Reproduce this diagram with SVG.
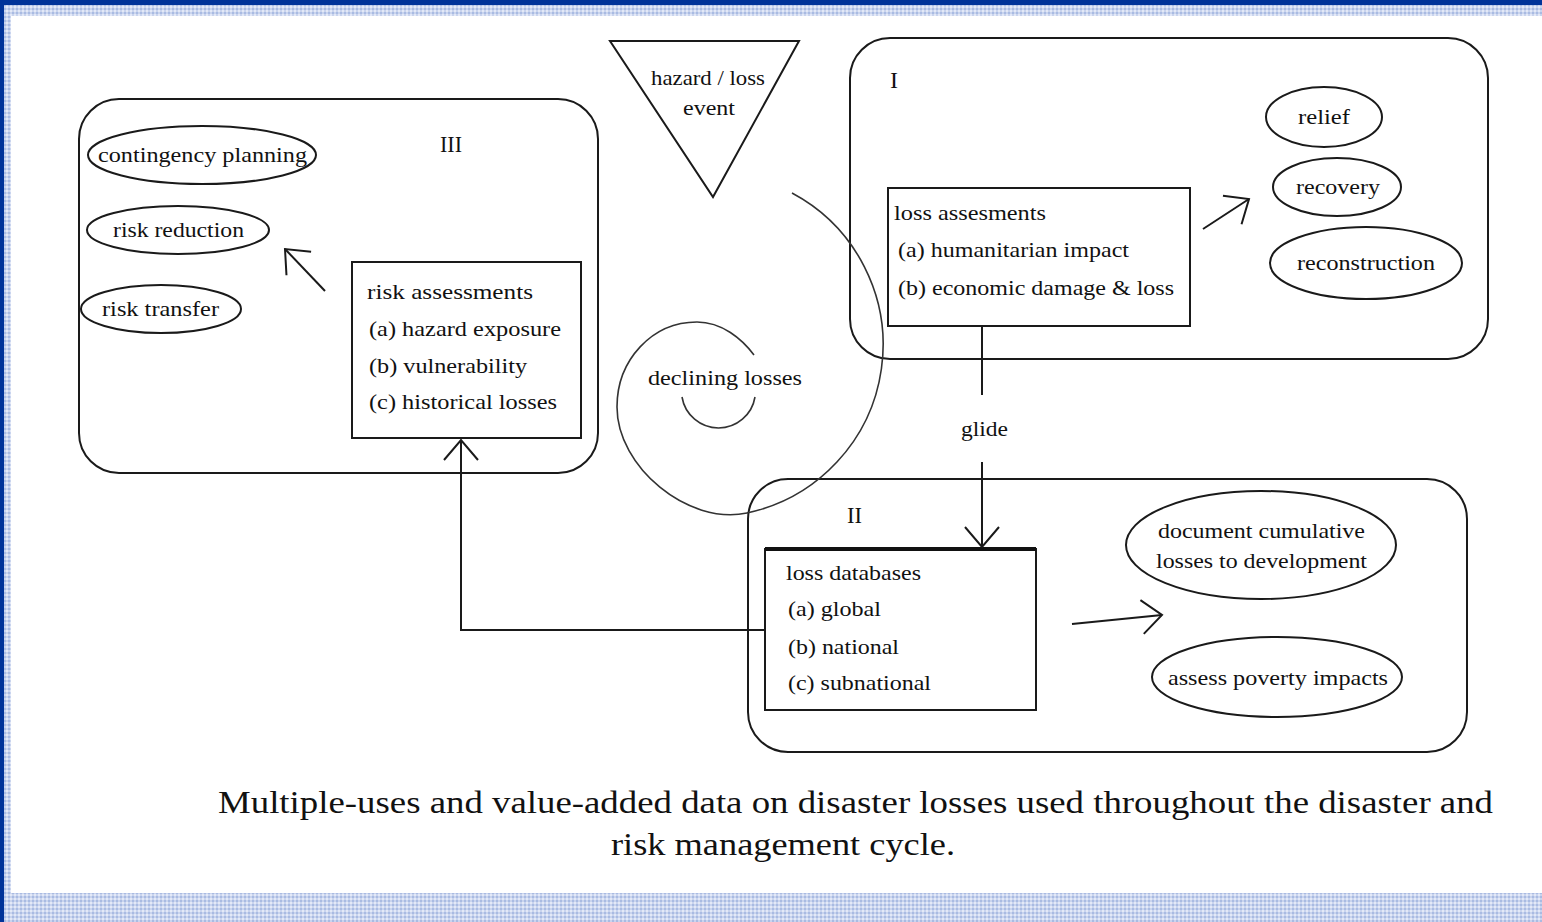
<svg xmlns="http://www.w3.org/2000/svg" width="1542" height="922" viewBox="0 0 1542 922">
<style>
.t{font-family:"Liberation Serif","Times New Roman",serif;font-size:21px;fill:#111}
.r{font-family:"Liberation Serif","Times New Roman",serif;font-size:24px;fill:#111}
.cap{font-family:"Liberation Serif","Times New Roman",serif;font-size:32px;fill:#111}
.box{fill:none;stroke:#1a1a1a;stroke-width:2}
.grp{fill:none;stroke:#1a1a1a;stroke-width:2}
.ell{fill:none;stroke:#1a1a1a;stroke-width:2}
.ln{fill:none;stroke:#1a1a1a;stroke-width:2}
.sp{fill:none;stroke:#333;stroke-width:1.6}
</style>
<defs>
<marker id="v" markerUnits="userSpaceOnUse" viewBox="-2 -20 30 40" markerWidth="30" markerHeight="40" refX="22" refY="0" orient="auto">
<path d="M2,-17 L22,0 L2,17" fill="none" stroke="#1a1a1a" stroke-width="2"/>
</marker>
<pattern id="chk" width="4" height="4" patternUnits="userSpaceOnUse">
<rect width="4" height="4" fill="#c9d4ee"/>
<rect width="2" height="2" fill="#a9bbe2"/>
<rect x="2" y="2" width="2" height="2" fill="#e3e9f7"/>
</pattern>
</defs>
<g id="frame">
<rect x="0" y="0" width="1542" height="922" fill="#ffffff"/>
<rect x="0" y="0" width="1542" height="5" fill="#003399"/>
<rect x="4" y="5" width="1538" height="11" fill="url(#chk)"/>
<rect x="4" y="5" width="7" height="890" fill="url(#chk)"/>
<rect x="4" y="893" width="1538" height="29" fill="url(#chk)"/>
<rect x="0" y="0" width="4" height="922" fill="#003399"/>
</g>
<g id="group-III">
<rect class="grp" x="79" y="99" width="519" height="374" rx="40" ry="40"/>
<text class="r" x="440" y="152" textLength="22" lengthAdjust="spacingAndGlyphs">III</text>
</g>
<g id="group-I">
<rect class="grp" x="850" y="38" width="638" height="321" rx="40" ry="40"/>
<text class="r" x="890" y="88">I</text>
</g>
<g id="group-II">
<rect class="grp" x="748" y="479" width="719" height="273" rx="40" ry="40"/>
<text class="r" x="847" y="523" textLength="15" lengthAdjust="spacingAndGlyphs">II</text>
</g>
<g id="hazard">
<polygon class="box" points="610,41 799,41 713,197"/>
<text class="t" x="708" y="85" text-anchor="middle" textLength="114" lengthAdjust="spacingAndGlyphs">hazard / loss</text>
<text class="t" x="709" y="115" text-anchor="middle" textLength="52" lengthAdjust="spacingAndGlyphs">event</text>
</g>
<g id="cycle">
<path class="sp" d="M792,193 A172,172 0 0 1 747,513 C688,525.5 617,467 617,407 C617,360 652,322 697,322 C722,322 742,339 754,355"/>
<path class="sp" d="M682,397 A37,37 0 0 0 755,397"/>
<text class="t" x="648" y="385" textLength="154" lengthAdjust="spacingAndGlyphs">declining losses</text>
</g>
<g id="risk-assessments">
<rect class="box" x="352" y="262" width="229" height="176"/>
<text class="t" x="367" y="299" textLength="166" lengthAdjust="spacingAndGlyphs">risk  assessments</text>
<text class="t" x="369" y="336" textLength="192" lengthAdjust="spacingAndGlyphs">(a) hazard exposure</text>
<text class="t" x="369" y="373" textLength="158" lengthAdjust="spacingAndGlyphs">(b) vulnerability</text>
<text class="t" x="369" y="409" textLength="188" lengthAdjust="spacingAndGlyphs">(c) historical losses</text>
</g>
<g id="contingency-planning">
<ellipse class="ell" cx="202" cy="155" rx="114" ry="29"/>
<text class="t" x="98" y="162" textLength="209" lengthAdjust="spacingAndGlyphs">contingency planning</text>
</g>
<g id="risk-reduction">
<ellipse class="ell" cx="178" cy="230" rx="91" ry="24"/>
<text class="t" x="113" y="237" textLength="131" lengthAdjust="spacingAndGlyphs">risk reduction</text>
</g>
<g id="risk-transfer">
<ellipse class="ell" cx="161" cy="309" rx="80" ry="24"/>
<text class="t" x="102" y="316" textLength="117" lengthAdjust="spacingAndGlyphs">risk transfer</text>
</g>
<g id="loss-assessments">
<rect class="box" x="888" y="188" width="302" height="138"/>
<text class="t" x="894" y="220" textLength="152" lengthAdjust="spacingAndGlyphs">loss assesments</text>
<text class="t" x="898" y="257" textLength="231" lengthAdjust="spacingAndGlyphs">(a) humanitarian impact</text>
<text class="t" x="898" y="295" textLength="276" lengthAdjust="spacingAndGlyphs">(b) economic damage &amp; loss</text>
</g>
<g id="relief">
<ellipse class="ell" cx="1324" cy="117" rx="58" ry="30"/>
<text class="t" x="1298" y="124" textLength="52" lengthAdjust="spacingAndGlyphs">relief</text>
</g>
<g id="recovery">
<ellipse class="ell" cx="1337" cy="187" rx="64" ry="29"/>
<text class="t" x="1296" y="194" textLength="84" lengthAdjust="spacingAndGlyphs">recovery</text>
</g>
<g id="reconstruction">
<ellipse class="ell" cx="1366" cy="263" rx="96" ry="36"/>
<text class="t" x="1297" y="270" textLength="138" lengthAdjust="spacingAndGlyphs">reconstruction</text>
</g>
<g id="loss-databases">
<rect class="box" x="765" y="549" width="271" height="161"/>
<line x1="765" y1="549" x2="1036" y2="549" stroke="#111" stroke-width="4"/>
<text class="t" x="786" y="580" textLength="135" lengthAdjust="spacingAndGlyphs">loss databases</text>
<text class="t" x="788" y="616" textLength="93" lengthAdjust="spacingAndGlyphs">(a) global</text>
<text class="t" x="788" y="654" textLength="111" lengthAdjust="spacingAndGlyphs">(b) national</text>
<text class="t" x="788" y="690" textLength="143" lengthAdjust="spacingAndGlyphs">(c) subnational</text>
</g>
<g id="document-cumulative">
<ellipse class="ell" cx="1261" cy="545" rx="135" ry="54"/>
<text class="t" x="1158" y="538" textLength="207" lengthAdjust="spacingAndGlyphs">document cumulative</text>
<text class="t" x="1156" y="568" textLength="211" lengthAdjust="spacingAndGlyphs">losses to development</text>
</g>
<g id="assess-poverty">
<ellipse class="ell" cx="1277" cy="677" rx="125" ry="40"/>
<text class="t" x="1168" y="685" textLength="220" lengthAdjust="spacingAndGlyphs">assess poverty impacts</text>
</g>
<g id="connectors">
<line class="ln" x1="325" y1="291" x2="285" y2="249" marker-end="url(#v)"/>
<line class="ln" x1="1203" y1="229" x2="1249" y2="199" marker-end="url(#v)"/>
<line class="ln" x1="982" y1="326" x2="982" y2="395"/>
<text class="t" x="961" y="436" textLength="47" lengthAdjust="spacingAndGlyphs">glide</text>
<line class="ln" x1="982" y1="462" x2="982" y2="547" marker-end="url(#v)"/>
<line class="ln" x1="1072" y1="624" x2="1162" y2="615" marker-end="url(#v)"/>
<polyline class="ln" points="765,630 461,630 461,440" marker-end="url(#v)"/>
</g>
<g id="caption">
<text class="cap" x="218" y="813" textLength="1275" lengthAdjust="spacingAndGlyphs">Multiple-uses and value-added data on disaster losses used throughout the disaster and</text>
<text class="cap" x="611" y="855" textLength="344" lengthAdjust="spacingAndGlyphs">risk management cycle.</text>
</g>
</svg>
